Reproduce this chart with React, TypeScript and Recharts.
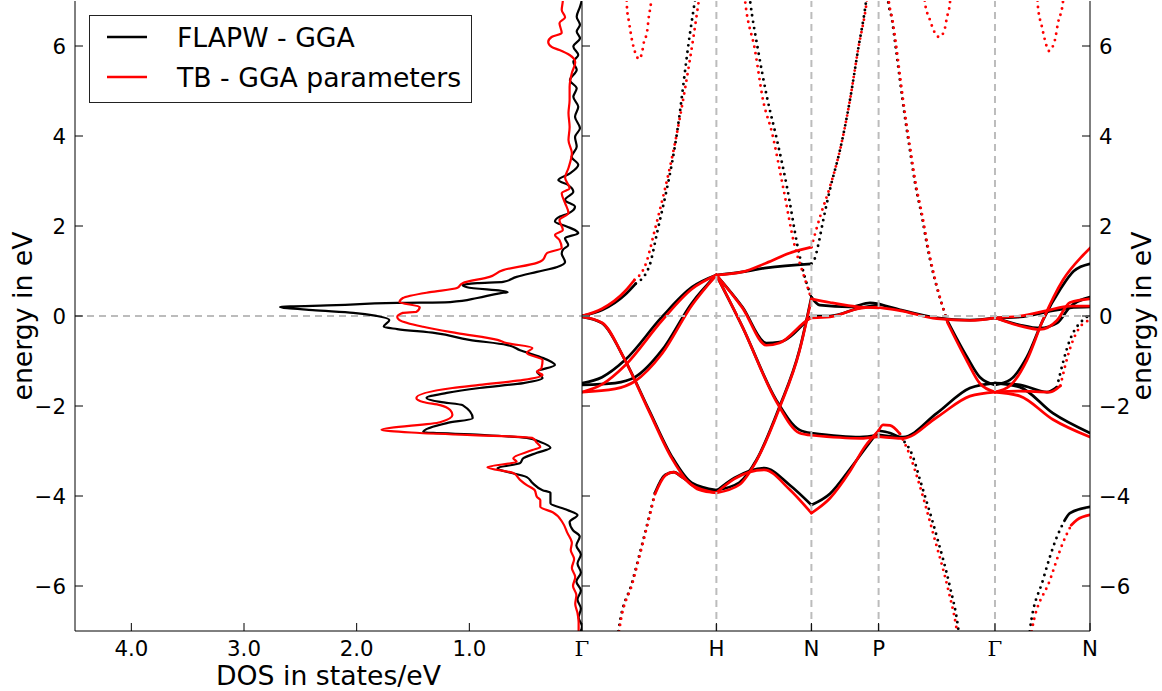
import React from 'react';
import { LineChart, Line, XAxis, YAxis, ReferenceLine } from 'recharts';

type Row = [number, number];

const SANS = '"DejaVu Sans", sans-serif';
const SERIF = '"DejaVu Serif", serif';
const FLAPW_COLOR = '#000000';
const TB_COLOR = '#ff0000';
const GUIDE_COLOR = '#bcbcbc';
const TICK_FONT = 21.3;
const TITLE_FONT = 26.7;
const TICK_LEN = 8;
const GAP = 9;

// ---------- axes ----------
const energyTicks = [-6, -4, -2, 0, 2, 4, 6];
const dosTicks = [1, 2, 3, 4];
const kPoints = [0, 1, 1.7071, 2.2071, 3.0731, 3.7802];
const kLabels = ['Γ', 'H', 'N', 'P', 'Γ', 'N'];
const energyDomain: [number, number] = [-7, 7];
const dosDomain: [number, number] = [0, 4.5];
const kDomain: [number, number] = [0, 3.7802];
const seriesNames = ['FLAPW - GGA', 'TB - GGA parameters'];

// ---------- density of states: [energy (eV), DOS (states/eV)] ----------
const flapwDos: Row[] = [
  [7.1, 0.003], [7.02, 0.003], [6.87, 0.018], [6.65, 0.047], [6.47, 0.018], [6.32, 0.047], [6.17, 0.018],
  [5.99, 0.077], [5.8, 0.033], [5.65, 0.077], [5.47, 0.047], [5.24, 0.107], [5.06, 0.047], [4.87, 0.077],
  [4.65, 0.033], [4.43, 0.062], [4.17, 0.018], [3.98, 0.062], [3.76, 0.047], [3.54, 0.092], [3.36, 0.033],
  [3.17, 0.107], [3.02, 0.21], [2.91, 0.122], [2.76, 0.077], [2.58, 0.151], [2.43, 0.062], [2.28, 0.122],
  [2.21, 0.196], [2.1, 0.24], [1.99, 0.136], [1.91, 0.062], [1.84, 0.033], [1.73, 0.151], [1.58, 0.122],
  [1.47, 0.17], [1.39, 0.18], [1.2, 0.15], [1.09, 0.22], [0.98, 0.4], [0.87, 0.58], [0.76, 0.7],
  [0.73, 0.93], [0.69, 1.06], [0.64, 1.02], [0.53, 0.66], [0.51, 0.72], [0.4, 0.93], [0.31, 1.17],
  [0.29, 1.64], [0.24, 2.18], [0.2, 2.68], [0.13, 2.39], [0.07, 2.03], [0.0, 1.82], [-0.09, 1.71],
  [-0.24, 1.76], [-0.29, 1.64], [-0.38, 1.3], [-0.53, 1.0], [-0.64, 0.67], [-0.76, 0.55], [-0.91, 0.37],
  [-1.09, 0.24], [-1.24, 0.4], [-1.38, 0.35], [-1.49, 0.52], [-1.6, 0.91], [-1.71, 1.2], [-1.82, 1.38],
  [-1.91, 1.26], [-1.98, 1.06], [-2.27, 0.97], [-2.38, 1.2], [-2.58, 1.41], [-2.64, 0.9], [-2.71, 0.49],
  [-2.8, 0.37], [-2.93, 0.28], [-3.04, 0.4], [-3.16, 0.52], [-3.27, 0.55], [-3.38, 0.75], [-3.58, 0.49],
  [-3.71, 0.44], [-3.87, 0.35], [-3.93, 0.28], [-4.16, 0.28], [-4.31, 0.13], [-4.42, 0.04], [-4.58, 0.11],
  [-4.76, 0.08], [-4.9, 0.02], [-5.1, 0.05], [-5.3, 0.01], [-5.5, 0.04], [-5.7, 0.01], [-5.9, 0.05],
  [-6.1, 0.01], [-6.3, 0.04], [-6.5, 0.01], [-6.7, 0.03], [-6.9, 0.0], [-7.05, 0.02],
];

const tbDos: Row[] = [
  [7.1, 0.17], [7.02, 0.17], [6.8, 0.18], [6.64, 0.15], [6.51, 0.2], [6.29, 0.18], [6.2, 0.27], [6.09, 0.3],
  [5.98, 0.27], [5.91, 0.2], [5.8, 0.11], [5.64, 0.06], [5.4, 0.09], [5.09, 0.11], [4.8, 0.11], [4.51, 0.12],
  [4.2, 0.11], [3.91, 0.12], [3.62, 0.09], [3.29, 0.12], [3.07, 0.15], [2.84, 0.11], [2.73, 0.18],
  [2.51, 0.15], [2.29, 0.12], [2.13, 0.2], [1.91, 0.17], [1.8, 0.24], [1.69, 0.2], [1.51, 0.18], [1.4, 0.31],
  [1.24, 0.35], [1.18, 0.4], [1.02, 0.7], [0.87, 0.82], [0.73, 1.06], [0.62, 1.11], [0.53, 1.35], [0.4, 1.59],
  [0.31, 1.62], [0.2, 1.44], [0.09, 1.47], [0.07, 1.59], [-0.02, 1.64], [-0.09, 1.62], [-0.24, 1.41],
  [-0.38, 1.11], [-0.53, 0.75], [-0.6, 0.67], [-0.71, 0.44], [-0.82, 0.49], [-0.98, 0.35], [-1.16, 0.36],
  [-1.24, 0.4], [-1.31, 0.35], [-1.42, 0.52], [-1.53, 0.91], [-1.6, 1.15], [-1.82, 1.47], [-1.91, 1.41],
  [-1.98, 1.26], [-2.09, 1.17], [-2.2, 1.15], [-2.36, 1.26], [-2.53, 1.78], [-2.6, 1.44], [-2.71, 0.44],
  [-2.82, 0.4], [-2.91, 0.37], [-2.98, 0.44], [-3.16, 0.61], [-3.24, 0.58], [-3.36, 0.84], [-3.49, 0.61],
  [-3.64, 0.55], [-3.76, 0.49], [-3.87, 0.42], [-4.02, 0.4], [-4.09, 0.37], [-4.24, 0.37], [-4.36, 0.26],
  [-4.6, 0.17], [-4.82, 0.13], [-5.04, 0.09], [-5.2, 0.1], [-5.4, 0.07], [-5.6, 0.09], [-5.8, 0.06],
  [-6.0, 0.08], [-6.2, 0.05], [-6.4, 0.06], [-6.6, 0.04], [-6.8, 0.03], [-7.05, 0.03],
];

// ---------- FLAPW bands: [k, energy (eV)] ----------
// Γ–H
const flapwGH1: Row[] = [[0, -0.02], [0.149, -0.16], [0.32, -0.98], [0.499, -2.09], [0.67, -3.13], [0.818, -3.71], [1.0, -3.87]];
const flapwGH2: Row[] = [[0, -1.49], [0.149, -1.36], [0.32, -0.98], [0.595, -0.02], [0.818, 0.64], [1.0, 0.91]];
const flapwGH3: Row[] = [[0, -1.53], [0.246, -1.49], [0.394, -1.36], [0.595, -0.76], [0.818, 0.29], [1.0, 0.91]];
const flapwGH4a: Row[] = [[0, 0], [0.149, 0.13], [0.32, 0.47], [0.4, 0.72]];
const flapwGH4b: Row[] = [[0.4, 0.72], [0.499, 1.09], [0.558, 1.84], [0.707, 4.07], [0.804, 6.29], [0.841, 7.02], [0.86, 7.4]];
const flapwGH5a: Row[] = [[0.262, -7.3], [0.275, -6.93], [0.372, -5.93], [0.469, -4.82], [0.543, -3.93]];
const flapwGH5b: Row[] = [[0.543, -3.93], [0.618, -3.53], [0.685, -3.47], [0.744, -3.58], [0.871, -3.82], [1.0, -3.89]];
// H–N
const flapwHN1: Row[] = [[1.0, 0.91], [1.194, 0.98], [1.372, 1.07], [1.707, 1.16]];
const flapwHN2: Row[] = [[1.0, 0.91], [1.194, 0.2], [1.372, -0.6], [1.469, -0.58], [1.693, -0.04], [1.707, 0.0]];
const flapwHN3: Row[] = [[1.0, 0.91], [1.194, -0.24], [1.446, -1.87], [1.618, -2.53], [1.707, -2.6]];
const flapwHN4: Row[] = [[1.0, -3.87], [1.171, -3.7], [1.298, -3.2], [1.469, -2.02], [1.618, -0.76], [1.707, 0.42]];
const flapwHN5: Row[] = [[1.0, -3.89], [1.134, -3.6], [1.357, -3.38], [1.543, -3.75], [1.707, -4.2]];
const flapwHN6: Row[] = [[1.235, 7.4], [1.25, 7.02], [1.31, 5.91], [1.376, 4.87], [1.451, 3.91], [1.525, 2.87], [1.607, 1.51], [1.65, 0.95], [1.707, 0.42]];
// N–P
const flapwNP1: Row[] = [[1.707, 1.16], [1.735, 1.3], [1.756, 1.55], [1.8, 2.2], [1.85, 2.87], [1.92, 3.69], [1.994, 4.8], [2.054, 5.91], [2.115, 7.02], [2.13, 7.4]];
const flapwNP2: Row[] = [[1.707, 0.42], [1.77, 0.24], [1.994, 0.2], [2.143, 0.29], [2.207, 0.27]];
const flapwNP3: Row[] = [[1.707, 0.0], [1.845, 0.0], [2.068, 0.18], [2.207, 0.25]];
const flapwNP4: Row[] = [[1.707, -2.6], [2.068, -2.69], [2.207, -2.64]];
const flapwNP5: Row[] = [[1.707, -4.2], [1.845, -3.95], [1.994, -3.4], [2.106, -2.95], [2.207, -2.55]];
// P–Γ
const flapwPG1a: Row[] = [[2.207, -2.55], [2.292, -2.6], [2.366, -2.7]];
const flapwPG1b: Row[] = [[2.366, -2.7], [2.463, -3.13], [2.515, -3.64], [2.641, -4.91], [2.738, -6.02], [2.798, -6.91], [2.81, -7.2]];
const flapwPG2: Row[] = [[2.207, -2.64], [2.388, -2.69], [2.641, -2.16], [2.887, -1.6], [3.073, -1.49]];
const flapwPG3: Row[] = [[2.207, 0.27], [2.366, 0.14], [2.641, -0.04], [2.887, -0.09], [3.073, -0.04]];
const flapwPG4a: Row[] = [[2.265, 7.4], [2.277, 7.02], [2.307, 6.58], [2.33, 6.07], [2.366, 5.24], [2.403, 4.42], [2.44, 3.69], [2.478, 2.96], [2.53, 2.2], [2.566, 1.6], [2.716, -0.09]];
const flapwPG4b: Row[] = [[2.716, -0.09], [2.865, -0.91], [2.961, -1.36], [3.073, -1.53]];
// Γ–N
const flapwGN1: Row[] = [[3.073, -1.53], [3.185, -1.42], [3.311, -0.91], [3.43, -0.09], [3.56, 0.6], [3.66, 1.0], [3.78, 1.16]];
const flapwGN2: Row[] = [[3.073, -1.49], [3.259, -1.58], [3.504, -2.16], [3.78, -2.6]];
const flapwGN3a: Row[] = [[3.073, -1.49], [3.259, -1.53], [3.46, -1.69], [3.534, -1.58]];
const flapwGN3b: Row[] = [[3.534, -1.58], [3.631, -0.53], [3.728, -0.09], [3.78, 0.02]];
const flapwGN4: Row[] = [[3.073, -0.04], [3.259, -0.2], [3.408, -0.27], [3.534, -0.16], [3.631, 0.2], [3.78, 0.42]];
const flapwGN5: Row[] = [[3.073, -0.04], [3.259, -0.02], [3.46, 0.09], [3.631, 0.18], [3.78, 0.2]];
const flapwGN6a: Row[] = [[3.32, -7.3], [3.333, -6.98], [3.43, -5.87], [3.534, -4.91], [3.59, -4.55]];
const flapwGN6b: Row[] = [[3.59, -4.55], [3.631, -4.38], [3.78, -4.24]];

// ---------- TB bands: [k, energy (eV)] ----------
// Γ–H
const tbGH1: Row[] = [[0, -0.02], [0.149, -0.15], [0.32, -0.98], [0.499, -2.12], [0.67, -3.17], [0.818, -3.76], [1.0, -3.93]];
const tbGH2: Row[] = [[0, -1.69], [0.149, -1.52], [0.32, -1.1], [0.595, -0.1], [0.818, 0.6], [1.0, 0.91]];
const tbGH3: Row[] = [[0, -1.69], [0.246, -1.62], [0.394, -1.45], [0.595, -0.84], [0.818, 0.24], [1.0, 0.91]];
const tbGH4a: Row[] = [[0, 0], [0.149, 0.16], [0.32, 0.55], [0.39, 0.8]];
const tbGH4b: Row[] = [[0.39, 0.8], [0.48, 1.2], [0.536, 1.84], [0.707, 4.07], [0.834, 6.29], [0.87, 7.02], [0.89, 7.4]];
const tbGH5a: Row[] = [[0.265, -7.3], [0.28, -6.93], [0.376, -5.93], [0.472, -4.82], [0.543, -3.96]];
const tbGH5b: Row[] = [[0.543, -3.96], [0.618, -3.55], [0.68, -3.47], [0.744, -3.58], [0.871, -3.86], [1.0, -3.93]];
const tbPocket1: Row[] = [[0.33, 7.3], [0.335, 6.84], [0.35, 6.53], [0.372, 6.13], [0.394, 5.87], [0.424, 5.71], [0.446, 5.84], [0.461, 6.09], [0.484, 6.31], [0.499, 6.69], [0.513, 6.96], [0.52, 7.3]];
// H–N
const tbHN1: Row[] = [[1.0, 0.91], [1.194, 0.98], [1.372, 1.18], [1.565, 1.42], [1.707, 1.53]];
const tbHN2: Row[] = [[1.0, 0.91], [1.194, 0.18], [1.372, -0.65], [1.469, -0.6], [1.693, -0.06], [1.707, -0.04]];
const tbHN3: Row[] = [[1.0, 0.91], [1.194, -0.24], [1.446, -1.9], [1.618, -2.6], [1.707, -2.65]];
const tbHN4: Row[] = [[1.0, -3.93], [1.171, -3.75], [1.298, -3.22], [1.469, -2.05], [1.618, -0.78], [1.707, 0.38]];
const tbHN5: Row[] = [[1.0, -3.93], [1.134, -3.62], [1.357, -3.42], [1.543, -3.85], [1.707, -4.38]];
const tbHN6: Row[] = [[1.2, 7.4], [1.213, 7.02], [1.287, 5.91], [1.347, 4.8], [1.414, 4.07], [1.496, 2.87], [1.585, 1.53], [1.645, 0.95], [1.707, 0.38]];
// N–P
const tbNP1: Row[] = [[1.707, 1.53], [1.771, 2.2], [1.845, 2.87], [1.92, 3.69], [1.994, 4.8], [2.054, 5.91], [2.12, 7.02], [2.135, 7.4]];
const tbNP2: Row[] = [[1.707, 0.38], [1.845, 0.3], [2.068, 0.2], [2.207, 0.18]];
const tbNP3: Row[] = [[1.707, -0.04], [1.845, -0.02], [2.068, 0.17], [2.207, 0.2]];
const tbNP4: Row[] = [[1.707, -2.65], [2.068, -2.72], [2.207, -2.68]];
const tbNP5: Row[] = [[1.707, -4.38], [1.845, -4.05], [1.994, -3.45], [2.106, -2.9], [2.207, -2.55]];
// P–Γ
const tbPG1a: Row[] = [[2.207, -2.55], [2.24, -2.42], [2.292, -2.43], [2.366, -2.62]];
const tbPG1b: Row[] = [[2.366, -2.62], [2.44, -3.1], [2.5, -3.64], [2.62, -4.91], [2.72, -6.02], [2.785, -6.91], [2.8, -7.2]];
const tbPG2: Row[] = [[2.207, -2.68], [2.388, -2.72], [2.641, -2.25], [2.887, -1.78], [3.073, -1.69]];
const tbPG3: Row[] = [[2.207, 0.19], [2.366, 0.12], [2.641, -0.06], [2.887, -0.1], [3.073, -0.04]];
const tbPG4a: Row[] = [[2.27, 7.4], [2.282, 7.02], [2.31, 6.58], [2.335, 6.07], [2.37, 5.24], [2.407, 4.42], [2.444, 3.69], [2.482, 2.96], [2.534, 2.2], [2.57, 1.6], [2.72, -0.15]];
const tbPG4b: Row[] = [[2.72, -0.15], [2.865, -1.0], [2.961, -1.5], [3.073, -1.69]];
const tbPocket2: Row[] = [[2.545, 7.3], [2.552, 6.96], [2.589, 6.58], [2.626, 6.29], [2.656, 6.2], [2.693, 6.31], [2.716, 6.64], [2.738, 6.96], [2.745, 7.3]];
// Γ–N
const tbGN1: Row[] = [[3.073, -1.69], [3.185, -1.55], [3.311, -0.98], [3.43, -0.09], [3.579, 0.8], [3.728, 1.35], [3.78, 1.51]];
const tbGN2: Row[] = [[3.073, -1.69], [3.259, -1.78], [3.504, -2.3], [3.78, -2.69]];
const tbGN3a: Row[] = [[3.073, -1.69], [3.259, -1.67], [3.482, -1.69], [3.56, -1.55]];
const tbGN3b: Row[] = [[3.56, -1.55], [3.631, -0.73], [3.7, -0.27], [3.78, -0.09]];
const tbGN4: Row[] = [[3.073, -0.04], [3.259, -0.22], [3.408, -0.3], [3.534, -0.1], [3.631, 0.3], [3.78, 0.38]];
const tbGN5: Row[] = [[3.073, -0.04], [3.259, 0.0], [3.46, 0.12], [3.631, 0.22], [3.78, 0.22]];
const tbGN6a: Row[] = [[3.34, -7.3], [3.348, -6.98], [3.482, -5.87], [3.579, -5.04], [3.64, -4.65]];
const tbGN6b: Row[] = [[3.64, -4.65], [3.683, -4.53], [3.78, -4.42]];
const tbPocket3: Row[] = [[3.385, 7.3], [3.393, 6.87], [3.423, 6.42], [3.445, 6.13], [3.475, 5.89], [3.519, 6.13], [3.542, 6.51], [3.579, 6.98], [3.585, 7.3]];

// smooth (densely sampled) pieces and steep (sparsely sampled) pieces
const flapwSmooth = [flapwGH1, flapwGH2, flapwGH3, flapwGH4a, flapwGH5b, flapwHN1, flapwHN2, flapwHN3, flapwHN4, flapwHN5,
  flapwNP2, flapwNP3, flapwNP4, flapwNP5, flapwPG1a, flapwPG2, flapwPG3, flapwPG4b, flapwGN1, flapwGN2, flapwGN3a,
  flapwGN4, flapwGN5, flapwGN6b];
const flapwSteep = [flapwGH4b, flapwGH5a, flapwHN6, flapwNP1, flapwPG1b, flapwPG4a, flapwGN3b, flapwGN6a];
const tbSmooth = [tbGH1, tbGH2, tbGH3, tbGH4a, tbGH5b, tbHN1, tbHN2, tbHN3, tbHN4, tbHN5, tbNP2, tbNP3, tbNP4, tbNP5,
  tbPG1a, tbPG2, tbPG3, tbPG4b, tbGN1, tbGN2, tbGN3a, tbGN4, tbGN5, tbGN6b];
const tbSteep = [tbGH4b, tbGH5a, tbPocket1, tbHN6, tbNP1, tbPG1b, tbPG4a, tbPocket2, tbGN3b, tbGN6a, tbPocket3];

const toBand = (rows: Row[]) => rows.map(([k, e]) => ({ k, e }));
const toDos = (rows: Row[]) => rows.map(([e, dos]) => ({ e, dos }));

const fmtEnergy = (v: number) => (v < 0 ? `\u2212${Math.abs(v)}` : `${v}`);

// ---------- tick renderers (ticks point into the frame) ----------
const EnergyTickLeft = (p: any) => {
  const ax = p.x + GAP;
  return (
    <g>
      <line x1={ax} y1={p.y} x2={ax + TICK_LEN} y2={p.y} stroke="#000" strokeWidth={1} />
      <text x={p.x} y={p.y} dy={7.8} textAnchor="end" fontFamily={SANS} fontSize={TICK_FONT} fill="#000">
        {fmtEnergy(p.payload.value)}
      </text>
    </g>
  );
};
const EnergyTickRight = (p: any) => {
  const ax = p.x - GAP;
  return (
    <g>
      <line x1={ax} y1={p.y} x2={ax - TICK_LEN} y2={p.y} stroke="#000" strokeWidth={1} />
      <text x={p.x} y={p.y} dy={7.8} textAnchor="start" fontFamily={SANS} fontSize={TICK_FONT} fill="#000">
        {fmtEnergy(p.payload.value)}
      </text>
    </g>
  );
};
const InwardFromLeft = (p: any) => <line x1={p.x} y1={p.y} x2={p.x + TICK_LEN} y2={p.y} stroke="#000" strokeWidth={1} />;
const InwardFromRight = (p: any) => <line x1={p.x} y1={p.y} x2={p.x - TICK_LEN} y2={p.y} stroke="#000" strokeWidth={1} />;
const InwardFromTop = (p: any) => <line x1={p.x} y1={p.y} x2={p.x} y2={p.y + TICK_LEN} stroke="#000" strokeWidth={1} />;

const DosTick = (p: any) => {
  const ay = p.y - GAP;
  return (
    <g>
      <line x1={p.x} y1={ay} x2={p.x} y2={ay - TICK_LEN} stroke="#000" strokeWidth={1} />
      <text x={p.x} y={p.y} dy={15.5} textAnchor="middle" fontFamily={SANS} fontSize={TICK_FONT} fill="#000">
        {Number(p.payload.value).toFixed(1)}
      </text>
    </g>
  );
};
const KTick = (p: any) => {
  const ay = p.y - GAP;
  const idx = kPoints.findIndex((v) => Math.abs(v - p.payload.value) < 1e-6);
  const label = kLabels[idx] ?? '';
  return (
    <g>
      <line x1={p.x} y1={ay} x2={p.x} y2={ay - TICK_LEN} stroke="#000" strokeWidth={1} />
      <text x={p.x} y={p.y} dy={15.5} textAnchor="middle" fontFamily={label === 'Γ' ? SERIF : SANS} fontSize={TICK_FONT} fill="#000">
        {label}
      </text>
    </g>
  );
};

const bandLine = (rows: Row[], color: string, steep: boolean, key: string) => (
  <Line
    key={key}
    data={toBand(rows)}
    dataKey="e"
    type="monotone"
    stroke={color}
    strokeWidth={steep ? 2.9 : 2.7}
    strokeDasharray={steep ? '0 6.5' : undefined}
    strokeLinecap="round"
    strokeLinejoin="round"
    dot={false}
    activeDot={false}
    isAnimationActive={false}
    legendType="none"
  />
);

const guide = { stroke: GUIDE_COLOR, strokeWidth: 2, strokeDasharray: '7 5' };
const frame = { stroke: '#000', strokeWidth: 1 };

export default function App() {
  return (
    <div style={{ position: 'absolute', left: 0, top: 0, width: 1162, height: 691, background: '#fff', overflow: 'hidden' }}>
      {/* density of states panel */}
      <div style={{ position: 'absolute', left: 0, top: 0 }}>
        <LineChart layout="vertical" width={582} height={691} margin={{ top: 1, right: 0, bottom: 0, left: 0 }}>
          <XAxis type="number" domain={dosDomain} reversed ticks={dosTicks} interval={0} height={60}
            tickSize={0} tickMargin={GAP} tickLine={false} axisLine={frame} tick={<DosTick />} allowDataOverflow />
          <XAxis xAxisId="top" orientation="top" type="number" domain={dosDomain} reversed ticks={dosTicks} interval={0}
            height={0} tickSize={0} tickMargin={0} tickLine={false} axisLine={frame} tick={<InwardFromTop />} allowDataOverflow />
          <YAxis type="number" dataKey="e" domain={energyDomain} reversed ticks={energyTicks} interval={0} width={75}
            tickSize={0} tickMargin={GAP} tickLine={false} axisLine={frame} tick={<EnergyTickLeft />} allowDataOverflow />
          <YAxis yAxisId="right" orientation="right" type="number" domain={energyDomain} reversed ticks={energyTicks} interval={0}
            width={0} tickSize={0} tickMargin={0} tickLine={false} axisLine={frame} tick={<InwardFromRight />} allowDataOverflow />
          <ReferenceLine y={0} {...guide} />
          <Line data={toDos(flapwDos)} dataKey="dos" name={seriesNames[0]} type="monotone" stroke={FLAPW_COLOR}
            strokeWidth={2.2} strokeLinejoin="round" dot={false} activeDot={false} isAnimationActive={false} />
          <Line data={toDos(tbDos)} dataKey="dos" name={seriesNames[1]} type="monotone" stroke={TB_COLOR}
            strokeWidth={2.2} strokeLinejoin="round" dot={false} activeDot={false} isAnimationActive={false} />
        </LineChart>
      </div>

      {/* band structure panel */}
      <div style={{ position: 'absolute', left: 540, top: 0 }}>
        <LineChart width={622} height={691} margin={{ top: 1, right: 0, bottom: 0, left: 0 }}>
          <XAxis type="number" dataKey="k" domain={kDomain} ticks={kPoints} interval={0} height={60}
            tickSize={0} tickMargin={GAP} tickLine={false} axisLine={frame} tick={<KTick />} allowDataOverflow />
          <XAxis xAxisId="top" orientation="top" type="number" domain={kDomain} ticks={kPoints} interval={0}
            height={0} tickSize={0} tickMargin={0} tickLine={false} axisLine={frame} tick={<InwardFromTop />} allowDataOverflow />
          <YAxis type="number" domain={energyDomain} ticks={energyTicks} interval={0} width={42}
            tickSize={0} tickMargin={0} tickLine={false} axisLine={frame} tick={<InwardFromLeft />} allowDataOverflow />
          <YAxis yAxisId="right" orientation="right" type="number" domain={energyDomain} ticks={energyTicks} interval={0}
            width={72} tickSize={0} tickMargin={GAP} tickLine={false} axisLine={frame} tick={<EnergyTickRight />} allowDataOverflow />
          {flapwSmooth.map((b, i) => bandLine(b, FLAPW_COLOR, false, `fs${i}`))}
          {flapwSteep.map((b, i) => bandLine(b, FLAPW_COLOR, true, `fd${i}`))}
          {tbSmooth.map((b, i) => bandLine(b, TB_COLOR, false, `ts${i}`))}
          {tbSteep.map((b, i) => bandLine(b, TB_COLOR, true, `td${i}`))}
          <ReferenceLine y={0} {...guide} />
          {kPoints.slice(1, -1).map((k) => (
            <ReferenceLine key={`v${k}`} x={k} {...guide} />
          ))}
        </LineChart>
      </div>

      {/* axis titles and legend */}
      <svg width={1162} height={691} style={{ position: 'absolute', left: 0, top: 0, pointerEvents: 'none' }}>
        <text x={22} y={316} transform="rotate(-90 22 316)" textAnchor="middle" dominantBaseline="central"
          fontFamily={SANS} fontSize={TITLE_FONT} fill="#000">energy in eV</text>
        <text x={1141} y={316} transform="rotate(-90 1141 316)" textAnchor="middle" dominantBaseline="central"
          fontFamily={SANS} fontSize={TITLE_FONT} fill="#000">energy in eV</text>
        <text x={328.5} y={675} textAnchor="middle" dominantBaseline="central"
          fontFamily={SANS} fontSize={TITLE_FONT} fill="#000">DOS in states/eV</text>
        <g>
          <rect x={89.5} y={15.5} width={382} height={87} fill="#fff" stroke="#222" strokeWidth={1} />
          {seriesNames.map((name, i) => {
            const cy = 37 + i * 40;
            return (
              <g key={name}>
                <line x1={107} x2={147} y1={cy} y2={cy} stroke={i === 0 ? FLAPW_COLOR : TB_COLOR} strokeWidth={2.4} />
                <text x={177} y={cy} dy={9.7} fontFamily={SANS} fontSize={TITLE_FONT} fill="#000">{name}</text>
              </g>
            );
          })}
        </g>
      </svg>
    </div>
  );
}
